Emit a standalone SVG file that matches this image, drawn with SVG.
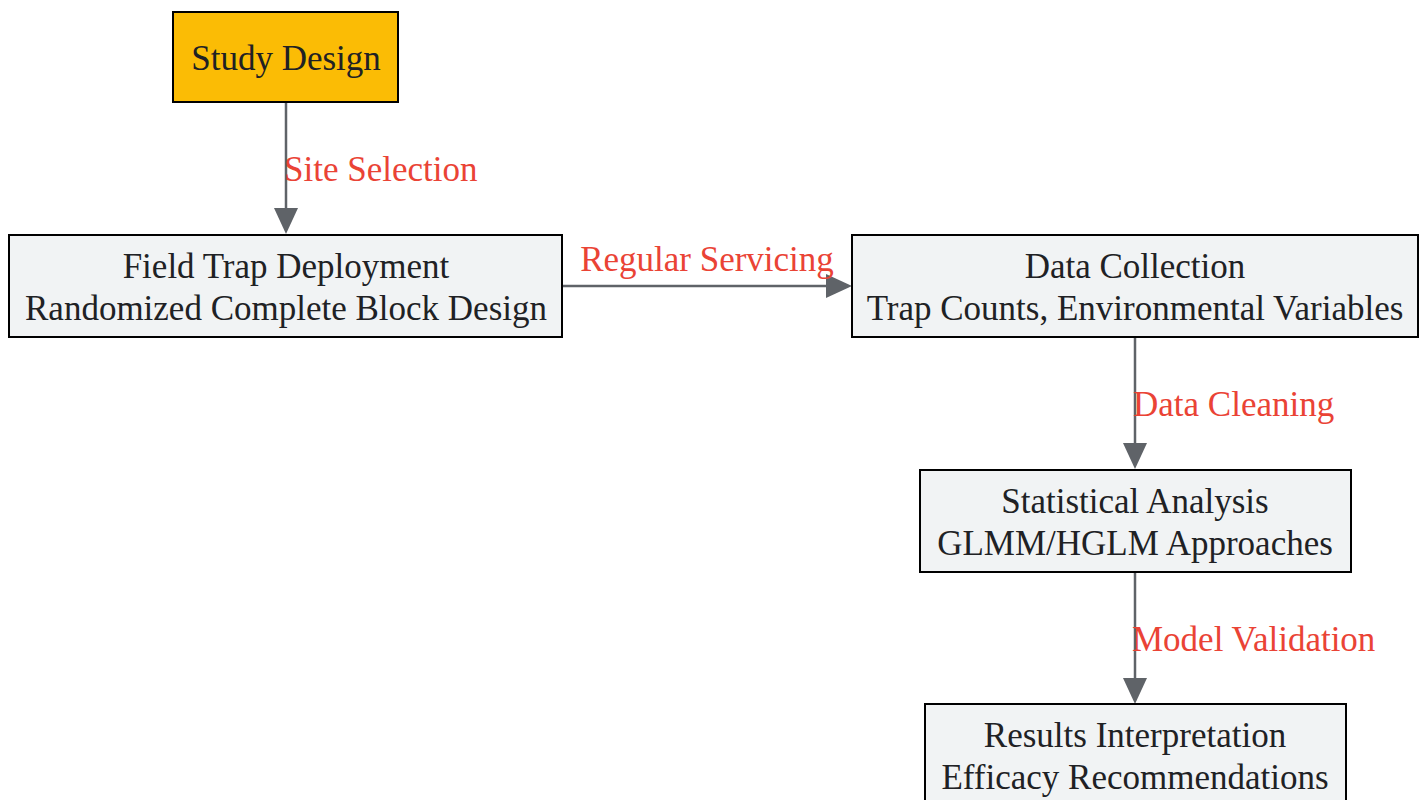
<svg xmlns="http://www.w3.org/2000/svg" width="1423" height="800" viewBox="0 0 1423 800">
<defs>
<style>
.box{fill:#f1f3f4;stroke:#000;stroke-width:2}
.start{fill:#fbbc05;stroke:#000;stroke-width:2}
.t{font-family:"Liberation Serif",serif;font-size:35px;fill:#202124;text-anchor:middle}
.e{stroke:#5f6368;stroke-width:2.5;fill:none}
.h{fill:#5f6368}
.l{font-family:"Liberation Serif",serif;font-size:35px;fill:#ea4335}
</style>
</defs>
<rect width="1423" height="800" fill="#fff"/>
<g id="connectors">
<path class="e" d="M286,102 V210"/><path class="h" d="M274,208 L286,234 L298,208 Z"/>
<text class="l" x="284" y="181">Site Selection</text>
<path class="e" d="M562,286 H828"/><path class="h" d="M826,274 L852,286 L826,298 Z"/>
<text class="l" x="707" y="271" text-anchor="middle">Regular Servicing</text>
<path class="e" d="M1135,337 V445"/><path class="h" d="M1123,443 L1135,469 L1147,443 Z"/>
<text class="l" x="1133" y="416">Data Cleaning</text>
<path class="e" d="M1135,572 V680"/><path class="h" d="M1123,678 L1135,704 L1147,678 Z"/>
<text class="l" x="1132" y="651">Model Validation</text>
</g>
<g id="study"><rect class="start" x="173" y="12" width="225" height="90"/><text class="t" x="286" y="70">Study Design</text></g>
<g id="field"><rect class="box" x="9" y="235" width="553" height="102"/><text class="t" x="286" y="278">Field Trap Deployment</text><text class="t" x="286" y="320">Randomized Complete Block Design</text></g>
<g id="data"><rect class="box" x="852" y="235" width="566" height="102"/><text class="t" x="1135" y="278">Data Collection</text><text class="t" x="1135" y="320">Trap Counts, Environmental Variables</text></g>
<g id="stat"><rect class="box" x="920" y="470" width="431" height="102"/><text class="t" x="1135" y="513">Statistical Analysis</text><text class="t" x="1135" y="555">GLMM/HGLM Approaches</text></g>
<g id="results"><rect class="box" x="925" y="704" width="421" height="102"/><text class="t" x="1135" y="747">Results Interpretation</text><text class="t" x="1135" y="789">Efficacy Recommendations</text></g>
</svg>
